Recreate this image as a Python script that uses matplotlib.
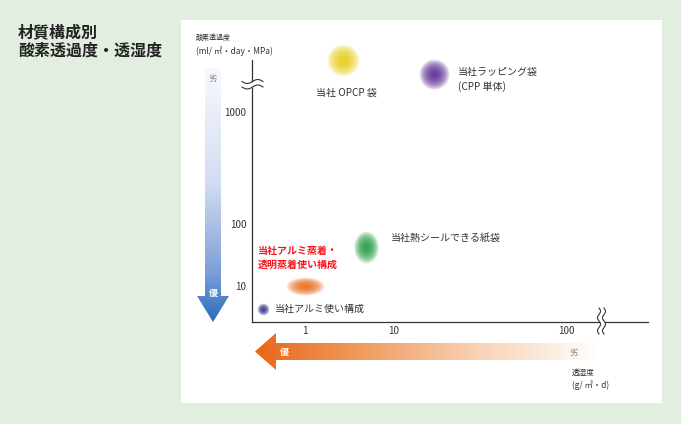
import numpy as np
import matplotlib
matplotlib.use('Agg')
import matplotlib.pyplot as plt
from matplotlib.path import Path
from matplotlib.patches import Polygon, Rectangle
from matplotlib.colors import LinearSegmentedColormap

plt.rcParams['font.family'] = ['Noto Sans CJK JP', 'DejaVu Sans']

# data
names = ['当社 OPCP 袋', '当社ラッピング袋\n(CPP 単体)', '当社熱シールできる紙袋',
         '当社アルミ蒸着・\n透明蒸着使い構成', '当社アルミ使い構成']
moisture = [2.7, 17, 4.8, 1.0, 0.34]      # 透湿度 g/m2.d
oxygen = [2900, 2200, 42, 10, 4.2]         # 酸素透過度 ml/m2.day.MPa
colors = ['#e9cf12', '#5a2792', '#1f9a3c', '#ea6a1c', '#2b2f8c']
label_colors = ['#333333', '#333333', '#333333', '#f5141e', '#333333']
label_weight = ['normal', 'normal', 'normal', 'bold', 'normal']
xticks = [1, 10, 100]
xticklabels = ['1', '10', '100']
yticks = [10, 100, 1000]
yticklabels = ['10', '100', '1000']

# blob looks: diameter px, height/width, label offset px, alignment
blob_d = [32, 30, 32, 38, 12]
blob_asp = [1.0, 1.0, 1.3, 0.47, 1.0]
lab_off = [(3, -33), (24, 7), (25, 10), (-47, 28), (12, 0)]
lab_ha = ['center', 'left', 'left', 'left', 'left']
lab_va = ['center', 'top', 'center', 'center', 'center']

# axis is not a clean log scale: ticks sit at uneven spacing
xl = [-1, 0, 1, 2, 3]
xp = [216, 305, 394, 566, 738]
yl = [0, 1, 2, 3, 4]
yh = [76, 138, 200, 312, 424]


def fx(v):
    return np.interp(np.log10(np.clip(v, 1e-6, None)), xl, xp)


def fx_inv(p):
    return 10 ** np.interp(p, xp, xl)


def fy(v):
    return np.interp(np.log10(np.clip(v, 1e-6, None)), yl, yh)


def fy_inv(p):
    return 10 ** np.interp(p, yh, yl)


W, H = 681, 424
fig = plt.figure(figsize=(W / 100, H / 100), dpi=100)
fig.patch.set_facecolor('#e2efe0')

# background layer in pixel coords
bg = fig.add_axes([0, 0, 1, 1], zorder=-1)
bg.axis('off')
bg.add_patch(Rectangle((181, 20), 481, 383, color='white', lw=0, zorder=-5))

# vertical arrow (oxygen), gradient clipped to arrow shape
varrow = Polygon([(205, 68), (221, 68), (221, 296), (229, 296), (213, 322),
                  (197, 296), (205, 296)], closed=True, fc='none', ec='none')
bg.add_patch(varrow)
vcm = LinearSegmentedColormap.from_list(
    'v', [(0, '#f7f9fe'), (0.45, '#d3ddf1'), (0.8, '#7ea0d8'), (1, '#2a6cbb')])
im = bg.imshow(np.linspace(0, 1, 256).reshape(-1, 1), cmap=vcm, aspect='auto',
               extent=(196, 230, 322, 68), origin='upper', zorder=2)
im.set_clip_path(varrow)

# horizontal arrow (moisture)
harrow = Polygon([(600, 343), (600, 360), (276, 360), (276, 370), (255, 351.5),
                  (276, 333), (276, 343)], closed=True, fc='none', ec='none')
bg.add_patch(harrow)
hcm = LinearSegmentedColormap.from_list(
    'h', [(0, '#e8661a'), (0.3, '#f09a5c'), (0.65, '#f8d3b6'), (1, '#ffffff')])
im2 = bg.imshow(np.linspace(0, 1, 256).reshape(1, -1), cmap=hcm, aspect='auto',
                extent=(255, 600, 370, 333), origin='upper', zorder=2)
im2.set_clip_path(harrow)
bg.set_xlim(0, W)
bg.set_ylim(H, 0)

bg.text(213, 78, '劣', ha='center', va='center', fontsize=6, color='#888888', zorder=3)
bg.text(213, 293, '優', ha='center', va='center', fontsize=6.5, color='white',
        fontweight='bold', zorder=3)
bg.text(284, 352, '優', ha='center', va='center', fontsize=6.5, color='white',
        fontweight='bold', zorder=3)
bg.text(574, 352, '劣', ha='center', va='center', fontsize=6, color='#888888', zorder=3)

# titles and axis names
bg.text(18, 32, '材質構成別', ha='left', va='center', fontsize=11.5, color='#222222',
        fontweight='bold')
bg.text(18, 51, '酸素透過度・透湿度', ha='left', va='center', fontsize=11.5,
        color='#222222', fontweight='bold')
bg.text(196, 38, '酸素透過度', ha='left', va='center', fontsize=5, color='#333333')
bg.text(196, 51, '(ml/ ㎡・day・MPa)', ha='left', va='center', fontsize=6, color='#333333')
bg.text(572, 373, '透湿度', ha='left', va='center', fontsize=5.5, color='#333333')
bg.text(572, 385, '(g/ ㎡・d)', ha='left', va='center', fontsize=6, color='#333333')

# main chart
ax = fig.add_axes([252 / W, 102 / H, 396 / W, 262 / H])
ax.set_facecolor('none')
ax.set_xscale('function', functions=(fx, fx_inv))
ax.set_yscale('function', functions=(fy, fy_inv))
ax.set_xlim(fx_inv(252), fx_inv(648))
ax.set_ylim(fy_inv(102), fy_inv(364))
for s in ['top', 'right']:
    ax.spines[s].set_visible(False)
for s in ['left', 'bottom']:
    ax.spines[s].set_color('#333333')
    ax.spines[s].set_linewidth(0.9)
ax.set_xticks(xticks, xticklabels)
ax.set_yticks(yticks, yticklabels)
ax.minorticks_off()
ax.tick_params(length=0, labelsize=7, labelcolor='#333333')
ax.tick_params(axis='y', pad=4)
ax.tick_params(axis='x', pad=3)

t = np.linspace(0, 2 * np.pi, 60)
n_layers = 16
for i in range(len(names)):
    m = Path(np.c_[np.cos(t), blob_asp[i] * np.sin(t)])
    if blob_asp[i] > 1:
        m = Path(np.c_[np.cos(t) / blob_asp[i], np.sin(t)])
    for k in range(n_layers):
        f = 1 - k / n_layers
        ax.scatter([moisture[i]], [oxygen[i]], s=(blob_d[i] * f * 0.72) ** 2,
                   marker=m, color=colors[i], alpha=0.13, lw=0, clip_on=False)
    ax.annotate(names[i], (moisture[i], oxygen[i]), xytext=lab_off[i],
                textcoords='offset pixels', ha=lab_ha[i], va=lab_va[i],
                fontsize=7.2, color=label_colors[i], fontweight=label_weight[i],
                linespacing=1.45)

# axis break marks on top
fg = fig.add_axes([0, 0, 1, 1], zorder=5)
fg.axis('off')
fg.set_xlim(0, W)
fg.set_ylim(H, 0)
bx = np.linspace(242, 263, 50)
w1 = 81.5 + 2 * np.sin(2 * np.pi * (bx - 242) / 21)
w2 = 87 + 2 * np.sin(2 * np.pi * (bx - 242) / 21)
fg.fill_between(bx, w1, w2, color='white', lw=0)
fg.plot(bx, w1, color='#333333', lw=0.8)
fg.plot(bx, w2, color='#333333', lw=0.8)
by = np.linspace(308, 334, 60)
v1 = 599 + 1.5 * np.sin(2 * np.pi * (by - 308) / 13)
v2 = 604 + 1.5 * np.sin(2 * np.pi * (by - 308) / 13)
fg.fill_betweenx(by, v1, v2, color='white', lw=0)
fg.plot(v1, by, color='#333333', lw=0.8)
fg.plot(v2, by, color='#333333', lw=0.8)

fig.savefig('out.png', dpi=100, facecolor=fig.get_facecolor())
